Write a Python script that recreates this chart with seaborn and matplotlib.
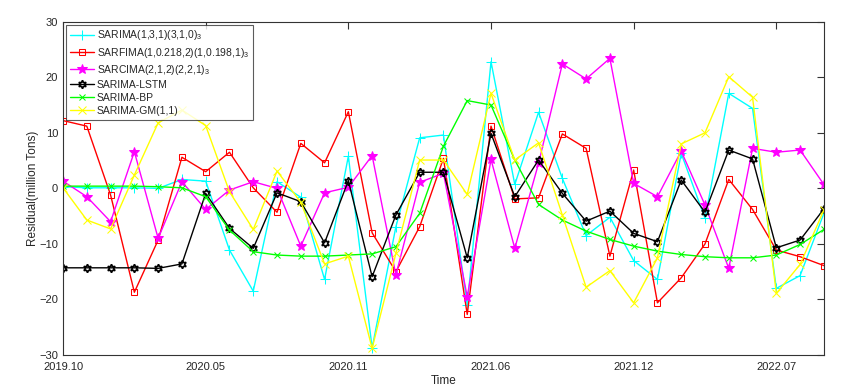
import numpy as np
import matplotlib
matplotlib.use("Agg")
import matplotlib.pyplot as plt
import seaborn as sns
import pandas as pd

sns.set_style("white")
plt.rcParams['font.family'] = ['Liberation Sans', 'DejaVu Sans']
plt.rcParams['mathtext.fontset'] = 'custom'
plt.rcParams['mathtext.rm'] = 'Liberation Sans'
plt.rcParams['mathtext.it'] = 'Liberation Sans'

tick_labels = ["2019.10", "2020.05", "2020.11", "2021.06", "2021.12", "2022.07"]

sarima = [0.3, 0.1, 0.1, 0.1, 0.0, 1.6, 1.3, -11.1, -18.5, 1.2, -1.6, -16.4, 5.8,
          -28.7, -6.9, 9.1, 9.6, -21.0, 22.8, 0.7, 13.7, 1.8, -8.5, -5.2, -13.0,
          -16.4, 6.3, -5.4, 17.1, 14.4, -18.0, -15.7, -4.5]
sarfima = [12.2, 11.2, -1.2, -18.7, -9.3, 5.6, 3.0, 6.5, 0.1, -4.3, 8.1, 4.6, 13.8,
           -8.0, -15.0, -6.9, 5.4, -22.7, 11.2, -1.9, -1.7, 9.8, 7.2, -12.2, 3.3,
           -20.6, -16.1, -10.0, 1.6, -3.8, -11.1, -12.3, -13.9]
sarcima = [1.3, -1.5, -6.0, 6.6, -9.0, 1.2, -3.8, -0.3, 1.2, 0.0, -10.4, -0.8, 0.2,
           5.9, -15.6, 1.1, 2.7, -19.5, 5.2, -10.8, 4.5, 22.4, 19.7, 23.4, 0.9,
           -1.5, 6.7, -3.0, -14.4, 7.2, 6.5, 6.9, 0.7]
lstm = [-14.3, -14.3, -14.3, -14.3, -14.4, -13.6, -0.9, -7.2, -10.8, -0.8, -2.4, -9.8,
        1.4, -15.9, -4.8, 2.9, 2.9, -12.5, 9.9, -1.5, 5.1, -0.9, -5.9, -4.1, -8.1,
        -9.6, 1.5, -4.3, 6.9, 5.3, -10.7, -9.3, -3.7]
bp = [0.4, 0.4, 0.4, 0.4, 0.3, 0.1, -1.5, -7.5, -11.4, -12.0, -12.2, -12.2, -12.0,
      -11.8, -10.5, -4.5, 7.6, 15.8, 15.0, 5.1, -2.9, -5.7, -7.7, -9.2, -10.4,
      -11.3, -11.9, -12.3, -12.5, -12.5, -12.0, -10.1, -7.4]
gm = [0.1, -5.7, -7.3, 2.4, 11.8, 14.1, 11.3, -0.6, -7.4, 3.1, -2.5, -13.6, -12.2,
      -28.8, -11.7, 5.1, 5.1, -1.1, 17.1, 5.1, 8.2, -4.8, -17.8, -14.8, -20.6,
      -12.5, 8.0, 10.0, 20.1, 16.4, -18.9, -13.7, -3.9]

t = np.arange(1, len(sarima) + 1)

series = [
    (r"SARIMA(1,3,1)(3,1,0)$_3$", sarima, "#00ffff", "+", dict(ms=7)),
    (r"SARFIMA(1,0.218,2)(1,0.198,1)$_3$", sarfima, "#ff0000", "s",
     dict(ms=5, mfc="none")),
    (r"SARCIMA(2,1,2)(2,2,1)$_3$", sarcima, "#ff00ff", "*", dict(ms=7)),
    ("SARIMA-LSTM", lstm, "#000000", (6, 1, 0), dict(ms=6, mfc="none", mew=1.2)),
    ("SARIMA-BP", bp, "#00ff00", "x", dict(ms=4)),
    ("SARIMA-GM(1,1)", gm, "#ffff00", "x", dict(ms=6)),
]

fig, ax = plt.subplots(figsize=(8.45, 3.91), dpi=100)
fig.subplots_adjust(left=0.0746, right=0.975, bottom=0.092, top=0.9445)

for name, vals, col, mk, kw in series:
    sns.lineplot(x=t, y=vals, ax=ax, color=col, marker=mk, label=name,
                 lw=1.0, mec=col, **kw)

ax.set_xlim(1, len(t))
ax.set_ylim(-30, 30)
ax.set_xticks(np.arange(1, len(t) + 1, 6))
ax.set_xticklabels(tick_labels)
ax.set_yticks(np.arange(-30, 31, 10))
ax.tick_params(direction="in", length=5, labelsize=8, top=True, right=True,
               width=0.8, color="#333333")
ax.tick_params(axis="x", pad=5)
for s in ax.spines.values():
    s.set_color("#333333")
    s.set_linewidth(0.8)
ax.set_xlabel("Time", fontsize=8.5, labelpad=2)
ax.set_ylabel("Residual(million Tons)", fontsize=8.5, labelpad=0)

leg = ax.legend(loc="upper left", fontsize=7.5, frameon=True, fancybox=False,
                borderaxespad=0.3, handlelength=2.3, labelspacing=0.3,
                handletextpad=0.3, borderpad=0.35)
leg.get_frame().set_edgecolor("#333333")
leg.get_frame().set_linewidth(0.8)

plt.savefig("out.png", dpi=100)
